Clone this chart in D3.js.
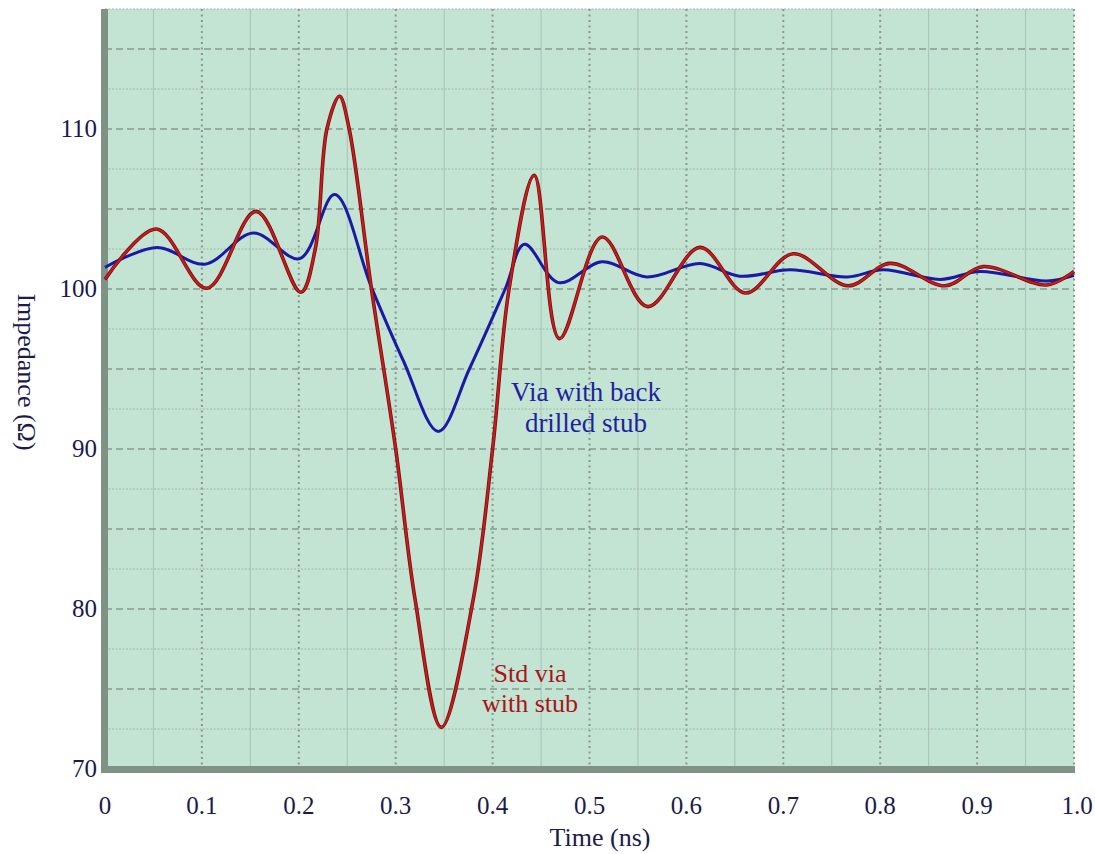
<!DOCTYPE html>
<html>
<head>
<meta charset="utf-8">
<script src="https://cdn.jsdelivr.net/npm/d3@7"></script>
<style>
  body { margin: 0; background: #fff; }
  text { font-family: "Liberation Serif", "DejaVu Serif", serif; }
</style>
</head>
<body>
<div id="chart"></div>
<script>
// time (ns) / impedance (ohm)
let stdTime = [0, 0.053, 0.105, 0.156, 0.202, 0.217, 0.229, 0.242, 0.252, 0.275, 0.300, 0.320, 0.347, 0.380, 0.400, 0.417, 0.443, 0.469, 0.513, 0.560, 0.614, 0.661, 0.710, 0.767, 0.810, 0.867, 0.906, 0.972, 1.0];
let stdZ    = [100.6, 103.75, 100.05, 104.85, 99.8, 102.5, 110, 112.05, 110, 100, 90, 80.6, 72.6, 80.6, 90, 100, 107.1, 96.9, 103.25, 98.9, 102.6, 99.75, 102.2, 100.2, 101.6, 100.2, 101.4, 100.25, 101.1];

let bdTime = [0, 0.054, 0.103, 0.153, 0.201, 0.237, 0.275, 0.308, 0.344, 0.376, 0.413, 0.433, 0.468, 0.513, 0.559, 0.614, 0.655, 0.707, 0.766, 0.803, 0.862, 0.903, 0.972, 1.0];
let bdZ    = [101.35, 102.6, 101.55, 103.5, 101.9, 105.9, 100.1, 95.5, 91.1, 95.0, 100, 102.8, 100.4, 101.7, 100.75, 101.6, 100.8, 101.2, 100.75, 101.2, 100.6, 101.1, 100.5, 100.85];

let xTicks = [0, 0.1, 0.2, 0.3, 0.4, 0.5, 0.6, 0.7, 0.8, 0.9, 1.0];
let xTickLabels = ["0", "0.1", "0.2", "0.3", "0.4", "0.5", "0.6", "0.7", "0.8", "0.9", "1.0"];
let yTicks = [70, 80, 90, 100, 110];

let W = 1095, H = 854;
let svg = d3.select("#chart").append("svg")
    .attr("width", W)
    .attr("height", H);

let x = d3.scaleLinear().domain([0, 1]).range([105, 1074]);
let y = d3.scaleLinear().domain([70, 117.5]).range([769, 9]);

let textCol = "#1b1b4d";
let gridCol = "#879a90";

// plot background
svg.append("rect")
    .attr("x", x(0)).attr("y", y(117.5))
    .attr("width", x(1) - x(0)).attr("height", y(70) - y(117.5))
    .attr("fill", "#c3e3d3");

// minor vertical grid (0.05, 0.15 ...)
d3.range(0.05, 1, 0.1).forEach(t => {
    svg.append("line")
        .attr("x1", x(t)).attr("x2", x(t))
        .attr("y1", y(117.5)).attr("y2", y(70))
        .attr("stroke", "#a6c3b5").attr("stroke-width", 1);
});

// minor horizontal grid (fine dotted)
d3.range(72.5, 118, 5).forEach(v => {
    svg.append("line")
        .attr("x1", x(0)).attr("x2", x(1))
        .attr("y1", y(v)).attr("y2", y(v))
        .attr("stroke", "#9fb8ab").attr("stroke-width", 1)
        .attr("stroke-dasharray", "2,1.5");
});

// major horizontal grid (dashed)
d3.range(75, 117, 5).forEach(v => {
    svg.append("line")
        .attr("x1", x(0)).attr("x2", x(1))
        .attr("y1", y(v)).attr("y2", y(v))
        .attr("stroke", gridCol).attr("stroke-width", 1.6)
        .attr("stroke-dasharray", "7,4");
});

// major vertical grid (dotted)
xTicks.forEach(t => {
    if (t === 0) return;
    svg.append("line")
        .attr("x1", x(t)).attr("x2", x(t))
        .attr("y1", y(117.5)).attr("y2", y(70))
        .attr("stroke", gridCol).attr("stroke-width", 2)
        .attr("stroke-dasharray", "2,3.5");
});

// left wall and floor
svg.append("rect")
    .attr("x", x(0) - 4).attr("y", y(117.5))
    .attr("width", 7).attr("height", y(70) - y(117.5) + 4)
    .attr("fill", "#7e9386");
svg.append("rect")
    .attr("x", x(0) - 4).attr("y", y(70) - 3)
    .attr("width", x(1) - x(0) + 5).attr("height", 7)
    .attr("fill", "#7e9386");

// curves
let line = d3.line()
    .x(d => x(d[0]))
    .y(d => y(d[1]))
    .curve(d3.curveCatmullRom.alpha(0.5));

let bdData = bdTime.map((t, i) => [t, bdZ[i]]);
let stdData = stdTime.map((t, i) => [t, stdZ[i]]);

svg.append("path")
    .datum(bdData)
    .attr("d", line)
    .attr("fill", "none")
    .attr("stroke", "#1a1aa6")
    .attr("stroke-width", 3);

svg.append("path")
    .datum(stdData)
    .attr("d", line)
    .attr("fill", "none")
    .attr("stroke", "#6e1010")
    .attr("stroke-width", 3.6);
svg.append("path")
    .datum(stdData)
    .attr("d", line)
    .attr("fill", "none")
    .attr("stroke", "#cc1a1c")
    .attr("stroke-width", 2);

// tick labels
yTicks.forEach(v => {
    svg.append("text")
        .attr("x", 97).attr("y", y(v) + 8)
        .attr("text-anchor", "end")
        .attr("font-size", 25)
        .attr("fill", textCol)
        .text(v);
});
xTicks.forEach((t, i) => {
    svg.append("text")
        .attr("x", x(t) + (i === 10 ? 3 : 0)).attr("y", 814)
        .attr("text-anchor", "middle")
        .attr("font-size", 25)
        .attr("fill", textCol)
        .text(xTickLabels[i]);
});

// axis titles
svg.append("text")
    .attr("x", 600).attr("y", 846)
    .attr("text-anchor", "middle")
    .attr("font-size", 26)
    .attr("fill", textCol)
    .text("Time (ns)");
svg.append("text")
    .attr("transform", "translate(18,372) rotate(90)")
    .attr("text-anchor", "middle")
    .attr("font-size", 26)
    .attr("fill", textCol)
    .text("Impedance (Ω)");

// annotations
let blueNote = svg.append("text")
    .attr("text-anchor", "middle")
    .attr("font-size", 27)
    .attr("fill", "#1f1fa0");
blueNote.append("tspan").attr("x", 586).attr("y", 401).text("Via with back");
blueNote.append("tspan").attr("x", 586).attr("y", 432).text("drilled stub");

let redNote = svg.append("text")
    .attr("text-anchor", "middle")
    .attr("font-size", 26)
    .attr("fill", "#a8141a");
redNote.append("tspan").attr("x", 530).attr("y", 682).text("Std via");
redNote.append("tspan").attr("x", 530).attr("y", 712).text("with stub");
</script>
</body>
</html>
